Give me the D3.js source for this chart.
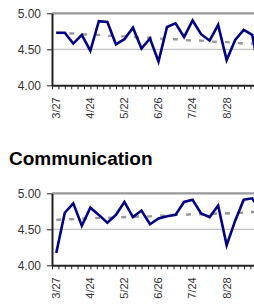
<!DOCTYPE html>
<html>
<head>
<meta charset="utf-8">
<script src="https://cdn.jsdelivr.net/npm/d3@7"></script>
<style>
body { margin: 0; background: #fff; }
svg { display: block; font-family: 'Liberation Sans', Arial, sans-serif; }
</style>
</head>
<body>
<svg></svg>
<script>

// weekly survey dates (only every 4th one is labelled)
const weeks = ['3/27', '4/3', '4/10', '4/17', '4/24', '5/1', '5/8', '5/15', '5/22', '5/29', '6/5', '6/12',
	'6/26', '7/3', '7/10', '7/17', '7/24', '7/31', '8/7', '8/14', '8/28', '9/4', '9/11', '9/18', '9/25']
const labelWeeks = ['3/27', '4/24', '5/22', '6/26', '7/24', '8/28']
const yTicks = [4.00, 4.50, 5.00]
const gridTicks = [4.50, 5.00]

// upper panel (title is cut off above)
const topScores = [4.73, 4.73, 4.58, 4.70, 4.48, 4.89, 4.88, 4.57, 4.64, 4.80, 4.51, 4.65,
	4.33, 4.81, 4.86, 4.67, 4.90, 4.71, 4.62, 4.84, 4.35, 4.63, 4.77, 4.70, 4.10]
const topTrend = [4.73, 4.72, 4.72, 4.71, 4.70, 4.70, 4.69, 4.68, 4.68, 4.67, 4.66, 4.66,
	4.65, 4.64, 4.64, 4.63, 4.62, 4.62, 4.61, 4.60, 4.60, 4.59, 4.58, 4.58, 4.57]

// Communication panel
const commScores = [4.17, 4.73, 4.86, 4.55, 4.80, 4.70, 4.59, 4.70, 4.88, 4.67, 4.76, 4.57,
	4.65, 4.68, 4.70, 4.88, 4.91, 4.72, 4.67, 4.83, 4.28, 4.62, 4.91, 4.93, 4.75]
const commTrend = [4.63, 4.64, 4.64, 4.65, 4.65, 4.66, 4.66, 4.66, 4.67, 4.67, 4.68, 4.68,
	4.69, 4.69, 4.70, 4.70, 4.71, 4.71, 4.71, 4.72, 4.72, 4.73, 4.73, 4.74, 4.74]

let w = 254, h = 308
let left = 52, step = 8.52, tickStep = 6.4, plotH = 72

let svg = d3.select('svg')
	.attr('width', w)
	.attr('height', h)

let scX = d3.scaleBand()
	.domain(weeks)
	.range([left, left + weeks.length * step])

const cx = d => scX(d) + scX.bandwidth() / 2

// the tick marks on the category axis don't line up with the points
let nTicks = 33
let scTick = d3.scaleLinear()
	.domain([0, nTicks])
	.range([left, left + nTicks * tickStep])

const drawPanel = (top, scores, trend) => {
	let g = svg.append('g')

	let scY = d3.scaleLinear()
		.domain([4, 5])
		.range([top + plotH, top])

	g.append('g')
		.selectAll('line')
		.data(gridTicks).enter().append('line')
		.attr('x1', left)
		.attr('x2', w)
		.attr('y1', d => scY(d))
		.attr('y2', d => scY(d))
		.attr('stroke', d => d == 5 ? '#999' : '#b4b4b4')
		.attr('stroke-width', d => d == 5 ? 2.2 : 1)

	let yAx = d3.axisLeft(scY)
		.tickValues(yTicks)
		.tickFormat(d3.format('.2f'))
		.tickSize(5)
		.tickSizeOuter(0)
		.tickPadding(6)

	let gy = g.append('g')
		.attr('transform', `translate(${left}, 0)`)
		.call(yAx)
	gy.select('.domain').attr('stroke', '#222').attr('stroke-width', 2)
	gy.selectAll('.tick line').attr('stroke', '#222')
	gy.selectAll('.tick text')
		.attr('fill', '#333')
		.style('font-size', '12px')

	let xAx = d3.axisBottom(scTick)
		.tickValues(d3.range(0, nTicks + 1))
		.tickFormat('')
		.tickSize(4)
		.tickSizeOuter(0)

	let gx = g.append('g')
		.attr('transform', `translate(0, ${scY(4)})`)
		.call(xAx)
	gx.select('.domain').attr('stroke', '#222').attr('stroke-width', 2)
	gx.selectAll('.tick line').attr('stroke', '#222')

	g.append('g')
		.selectAll('text')
		.data(labelWeeks).enter().append('text')
		.attr('transform', d => `translate(${cx(d)}, ${scY(4) + 12}) rotate(-90)`)
		.attr('text-anchor', 'end')
		.attr('dy', '0.35em')
		.attr('fill', '#333')
		.style('font-size', '11px')
		.text(d => d)

	g.append('path')
		.datum(trend)
		.attr('fill', 'none')
		.attr('stroke', '#999')
		.attr('stroke-width', 2.4)
		.attr('stroke-dasharray', '5,8')
		.attr('d', d3.line().x((d, i) => cx(weeks[i])).y(d => scY(d)))

	g.append('path')
		.datum(scores)
		.attr('fill', 'none')
		.attr('stroke', '#000080')
		.attr('stroke-width', 2.6)
		.attr('stroke-linejoin', 'miter')
		.attr('d', d3.line().x((d, i) => cx(weeks[i])).y(d => scY(d)))
}

drawPanel(13.3, topScores, topTrend)

svg.append('text')
	.attr('x', 9)
	.attr('y', 165)
	.style('font-size', '19px')
	.style('font-weight', 'bold')
	.attr('fill', '#000')
	.text('Communication')

drawPanel(193.3, commScores, commTrend)

</script>
</body>
</html>
